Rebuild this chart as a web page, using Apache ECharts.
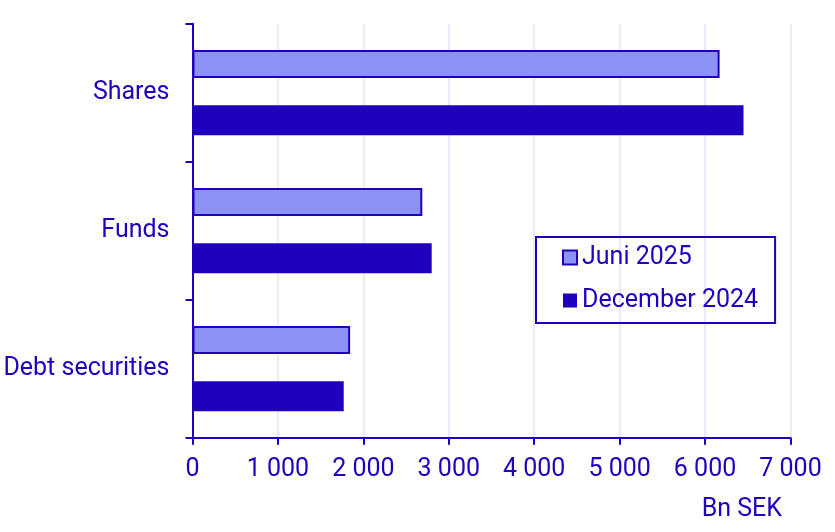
<!DOCTYPE html>
<html><head><meta charset="utf-8">
<script src="https://cdn.jsdelivr.net/npm/echarts@6/dist/echarts.min.js"></script>
<style>html,body{margin:0;padding:0;background:#fff}#c{width:835px;height:532px}</style>
</head><body><div id="c"></div>
<script>
var categories = ['Shares', 'Funds', 'Debt securities'];
var juni2025 = [6170, 2690, 1845];
var december2024 = [6450, 2800, 1770];
var xTicks = { min: 0, max: 7000, interval: 1000 };
var unitLabel = 'Bn SEK';

var dark = '#2000be';
var light = '#8c91f5';
var font = 'Roboto';
var fs = 25;

var chart = echarts.init(document.getElementById('c'), null, { renderer: 'canvas' });
chart.setOption({
  animation: false,
  textStyle: { fontFamily: font },
  grid: { left: 192.5, right: 44.5, top: 23.7, bottom: 94.3, containLabel: false },
  legend: {
    orient: 'vertical',
    left: 536, top: 237,
    padding: [7, 17, 9, 26],
    borderColor: dark, borderWidth: 2,
    itemWidth: 14, itemHeight: 14, itemGap: 16,
    icon: 'rect',
    textStyle: { color: dark, fontSize: fs, fontFamily: font, lineHeight: 27 },
    data: ['Juni 2025', 'December 2024']
  },
  xAxis: {
    type: 'value', min: xTicks.min, max: xTicks.max, interval: xTicks.interval,
    axisLine: { show: true, lineStyle: { color: dark, width: 2 } },
    axisTick: { show: true, length: 7, lineStyle: { color: dark, width: 2 } },
    axisLabel: {
      color: dark, fontSize: fs, fontFamily: font, margin: 20,
      formatter: function (v) { return String(v).replace(/\B(?=(\d{3})+(?!\d))/g, ' '); }
    },
    splitLine: { show: true, lineStyle: { color: '#ebe9fb', width: 2 } }
  },
  yAxis: {
    type: 'category', inverse: true, data: categories,
    axisLine: { show: true, lineStyle: { color: dark, width: 2 } },
    axisTick: { show: true, length: 7, lineStyle: { color: dark, width: 2 } },
    axisLabel: { color: dark, fontSize: fs, fontFamily: font, margin: 23, padding: [6, 0, 0, 0] },
    splitLine: { show: false }
  },
  graphic: [{
    type: 'text', x: 782, y: 510,
    style: { text: unitLabel, fill: dark, font: fs + 'px ' + font, textAlign: 'right', textVerticalAlign: 'middle' }
  }],
  series: [
    {
      name: 'Juni 2025', type: 'bar', data: juni2025, barWidth: 28, barGap: '97%',
      itemStyle: { color: light, borderColor: dark, borderWidth: 2 }
    },
    {
      name: 'December 2024', type: 'bar', data: december2024, barWidth: 30,
      itemStyle: { color: dark }
    }
  ]
});
</script></body></html>
